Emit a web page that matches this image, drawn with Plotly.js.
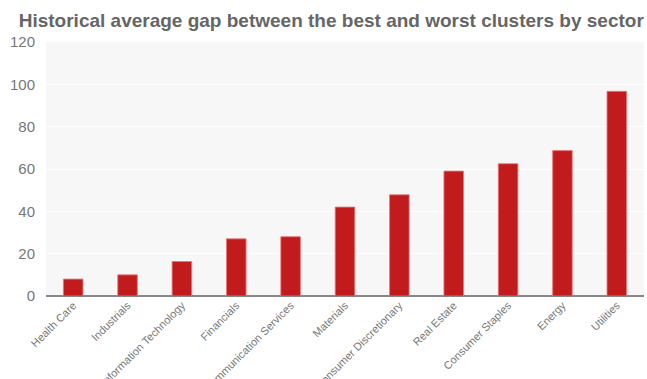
<!DOCTYPE html>
<html>
<head>
<meta charset="utf-8">
<script src="https://cdn.plot.ly/plotly-3.0.1.min.js"></script>
<style>
  html, body { margin: 0; padding: 0; background: #ffffff; }
  #chart { width: 647px; height: 379px; }
</style>
</head>
<body>
<div id="chart"></div>
<script>
// Sectors, ordered from smallest to largest gap
const sectors = [
  "Health Care", "Industrials", "Information Technology", "Financials",
  "Communication Services", "Materials", "Consumer Discretionary",
  "Real Estate", "Consumer Staples", "Energy", "Utilities"
];
// Average gap between best and worst clusters
const gaps = [8, 10, 16.3, 27, 28, 42, 47.8, 59, 62.5, 68.7, 96.7];
const yTicks = [0, 20, 40, 60, 80, 100, 120];

const trace = {
  type: "bar",
  x: sectors,
  y: gaps,
  marker: {
    color: "#c21b1e",
    line: { color: "rgba(232,120,120,0.85)", width: 1 }
  },
  hoverinfo: "x+y"
};

const layout = {
  width: 647,
  height: 379,
  margin: { l: 46, r: 3, t: 42, b: 83 },
  paper_bgcolor: "#ffffff",
  plot_bgcolor: "#f7f7f7",
  bargap: 0.64,
  showlegend: false,
  title: {
    text: "<b>Historical average gap between the best and worst clusters by sector</b>",
    font: { family: "Liberation Sans, Arial, sans-serif", size: 19, color: "#666666" },
    x: 0.512, xanchor: "center",
    y: 0.945, yanchor: "middle"
  },
  font: { family: "Liberation Sans, Arial, sans-serif", color: "#777777" },
  xaxis: {
    type: "category",
    tickangle: -45,
    tickfont: { size: 11, color: "#777777" },
    showgrid: false,
    ticks: "",
    showline: false,
    zeroline: false
  },
  yaxis: {
    range: [0, 120],
    tickvals: yTicks,
    ticktext: yTicks.map(String),
    tickfont: { size: 15, color: "#777777" },
    ticklabelstandoff: 10,
    showgrid: true,
    gridcolor: "#ffffff",
    gridwidth: 1,
    zeroline: true,
    zerolinecolor: "#888888",
    zerolinewidth: 2,
    ticks: "",
    ticklen: 0,
    showline: false
  }
};

Plotly.newPlot("chart", [trace], layout, { displayModeBar: false, staticPlot: true });
</script>
</body>
</html>
